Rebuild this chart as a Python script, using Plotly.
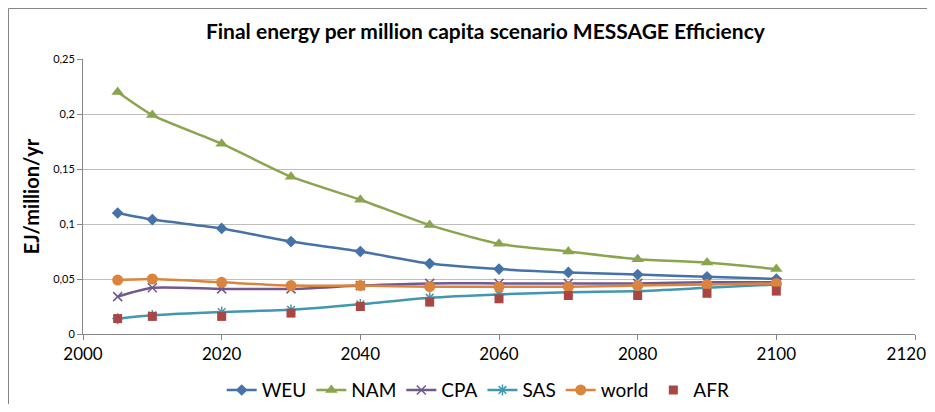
import plotly.graph_objects as go

years = [2005, 2010, 2020, 2030, 2040, 2050, 2060, 2070, 2080, 2090, 2100]
WEU = [0.110, 0.104, 0.096, 0.084, 0.075, 0.064, 0.059, 0.056, 0.054, 0.052, 0.050]
NAM = [0.220, 0.199, 0.173, 0.143, 0.122, 0.099, 0.082, 0.075, 0.068, 0.065, 0.059]
CPA = [0.034, 0.042, 0.041, 0.041, 0.044, 0.046, 0.046, 0.046, 0.046, 0.047, 0.047]
SAS = [0.014, 0.017, 0.020, 0.022, 0.027, 0.033, 0.036, 0.038, 0.039, 0.042, 0.045]
world = [0.049, 0.050, 0.047, 0.044, 0.044, 0.043, 0.043, 0.043, 0.044, 0.045, 0.046]
AFR = [0.014, 0.016, 0.016, 0.019, 0.025, 0.029, 0.032, 0.035, 0.035, 0.037, 0.039]

x_tickvals = [2000, 2020, 2040, 2060, 2080, 2100, 2120]
x_ticktext = ["2000", "2020", "2040", "2060", "2080", "2100", "2120&nbsp;&nbsp;&nbsp;&nbsp;"]
y_tickvals = [0, 0.05, 0.1, 0.15, 0.2, 0.25]

FONT = "Lato"

fig = go.Figure()

def line_trace(name, ys, color, symbol, size, mline=None):
    marker = dict(symbol=symbol, size=size, color=color)
    if mline:
        marker["line"] = dict(color=color, width=mline)
    fig.add_trace(go.Scatter(x=years, y=ys, name=name, mode="lines+markers",
                             line=dict(color=color, width=2.5, shape="spline", smoothing=0.6),
                             marker=marker))

line_trace("WEU", WEU, "#4572A7", "diamond", 9)
line_trace("NAM", NAM, "#89A54E", "triangle-up", 11)
line_trace("CPA", CPA, "#71588F", "x-thin-open", 9, 1.5)
line_trace("SAS", SAS, "#4198AF", "asterisk-open", 9, 1.5)
line_trace("world", world, "#DB843D", "circle", 11)
fig.add_trace(go.Scatter(x=years, y=AFR, name="AFR", mode="markers",
                         marker=dict(symbol="square", size=9, color="#AA4643")))

fig.update_layout(
    width=927, height=396,
    margin=dict(l=75, r=20, t=51, b=70, autoexpand=False),
    paper_bgcolor="white", plot_bgcolor="white",
    separators=",.",
    font=dict(family=FONT, color="black"),
    title=dict(text="<b>Final energy per million capita scenario MESSAGE Efficiency</b>",
               x=0.515, xanchor="center", y=1 - 24 / 396, yanchor="middle",
               font=dict(size=21, family=FONT)),
    showlegend=True,
    legend=dict(orientation="h", x=0.475, xanchor="center", y=-0.135, yanchor="top",
                font=dict(size=19, family=FONT), tracegroupgap=0, itemwidth=30,
                bgcolor="rgba(0,0,0,0)"),
    xaxis=dict(range=[2000, 2120], tickvals=x_tickvals, ticktext=x_ticktext,
               showgrid=False, showline=True, linecolor="#868686", linewidth=1,
               ticks="outside", ticklen=5, tickcolor="#868686", automargin=False,
               ticklabeloverflow="allow",
               tickfont=dict(size=17, family=FONT), zeroline=False),
    yaxis=dict(range=[0, 0.25], tickvals=y_tickvals,
               showgrid=True, gridcolor="#BEBEBE", gridwidth=1,
               showline=True, linecolor="#868686", linewidth=1,
               ticks="outside", ticklen=5, tickcolor="#868686", automargin=False,
               tickfont=dict(size=11, family=FONT), zeroline=False,
               title=dict(text="<b>EJ/million/yr</b>", font=dict(size=20, family=FONT), standoff=8)),
    shapes=[dict(type="rect", xref="paper", yref="paper",
                 x0=(0.5 - 75) / 832, x1=1.1, y0=-0.5, y1=(326 - 0.5) / 275,
                 line=dict(color="#868686", width=1), fillcolor="rgba(0,0,0,0)", layer="below")],
)

fig.write_html("out.html")
